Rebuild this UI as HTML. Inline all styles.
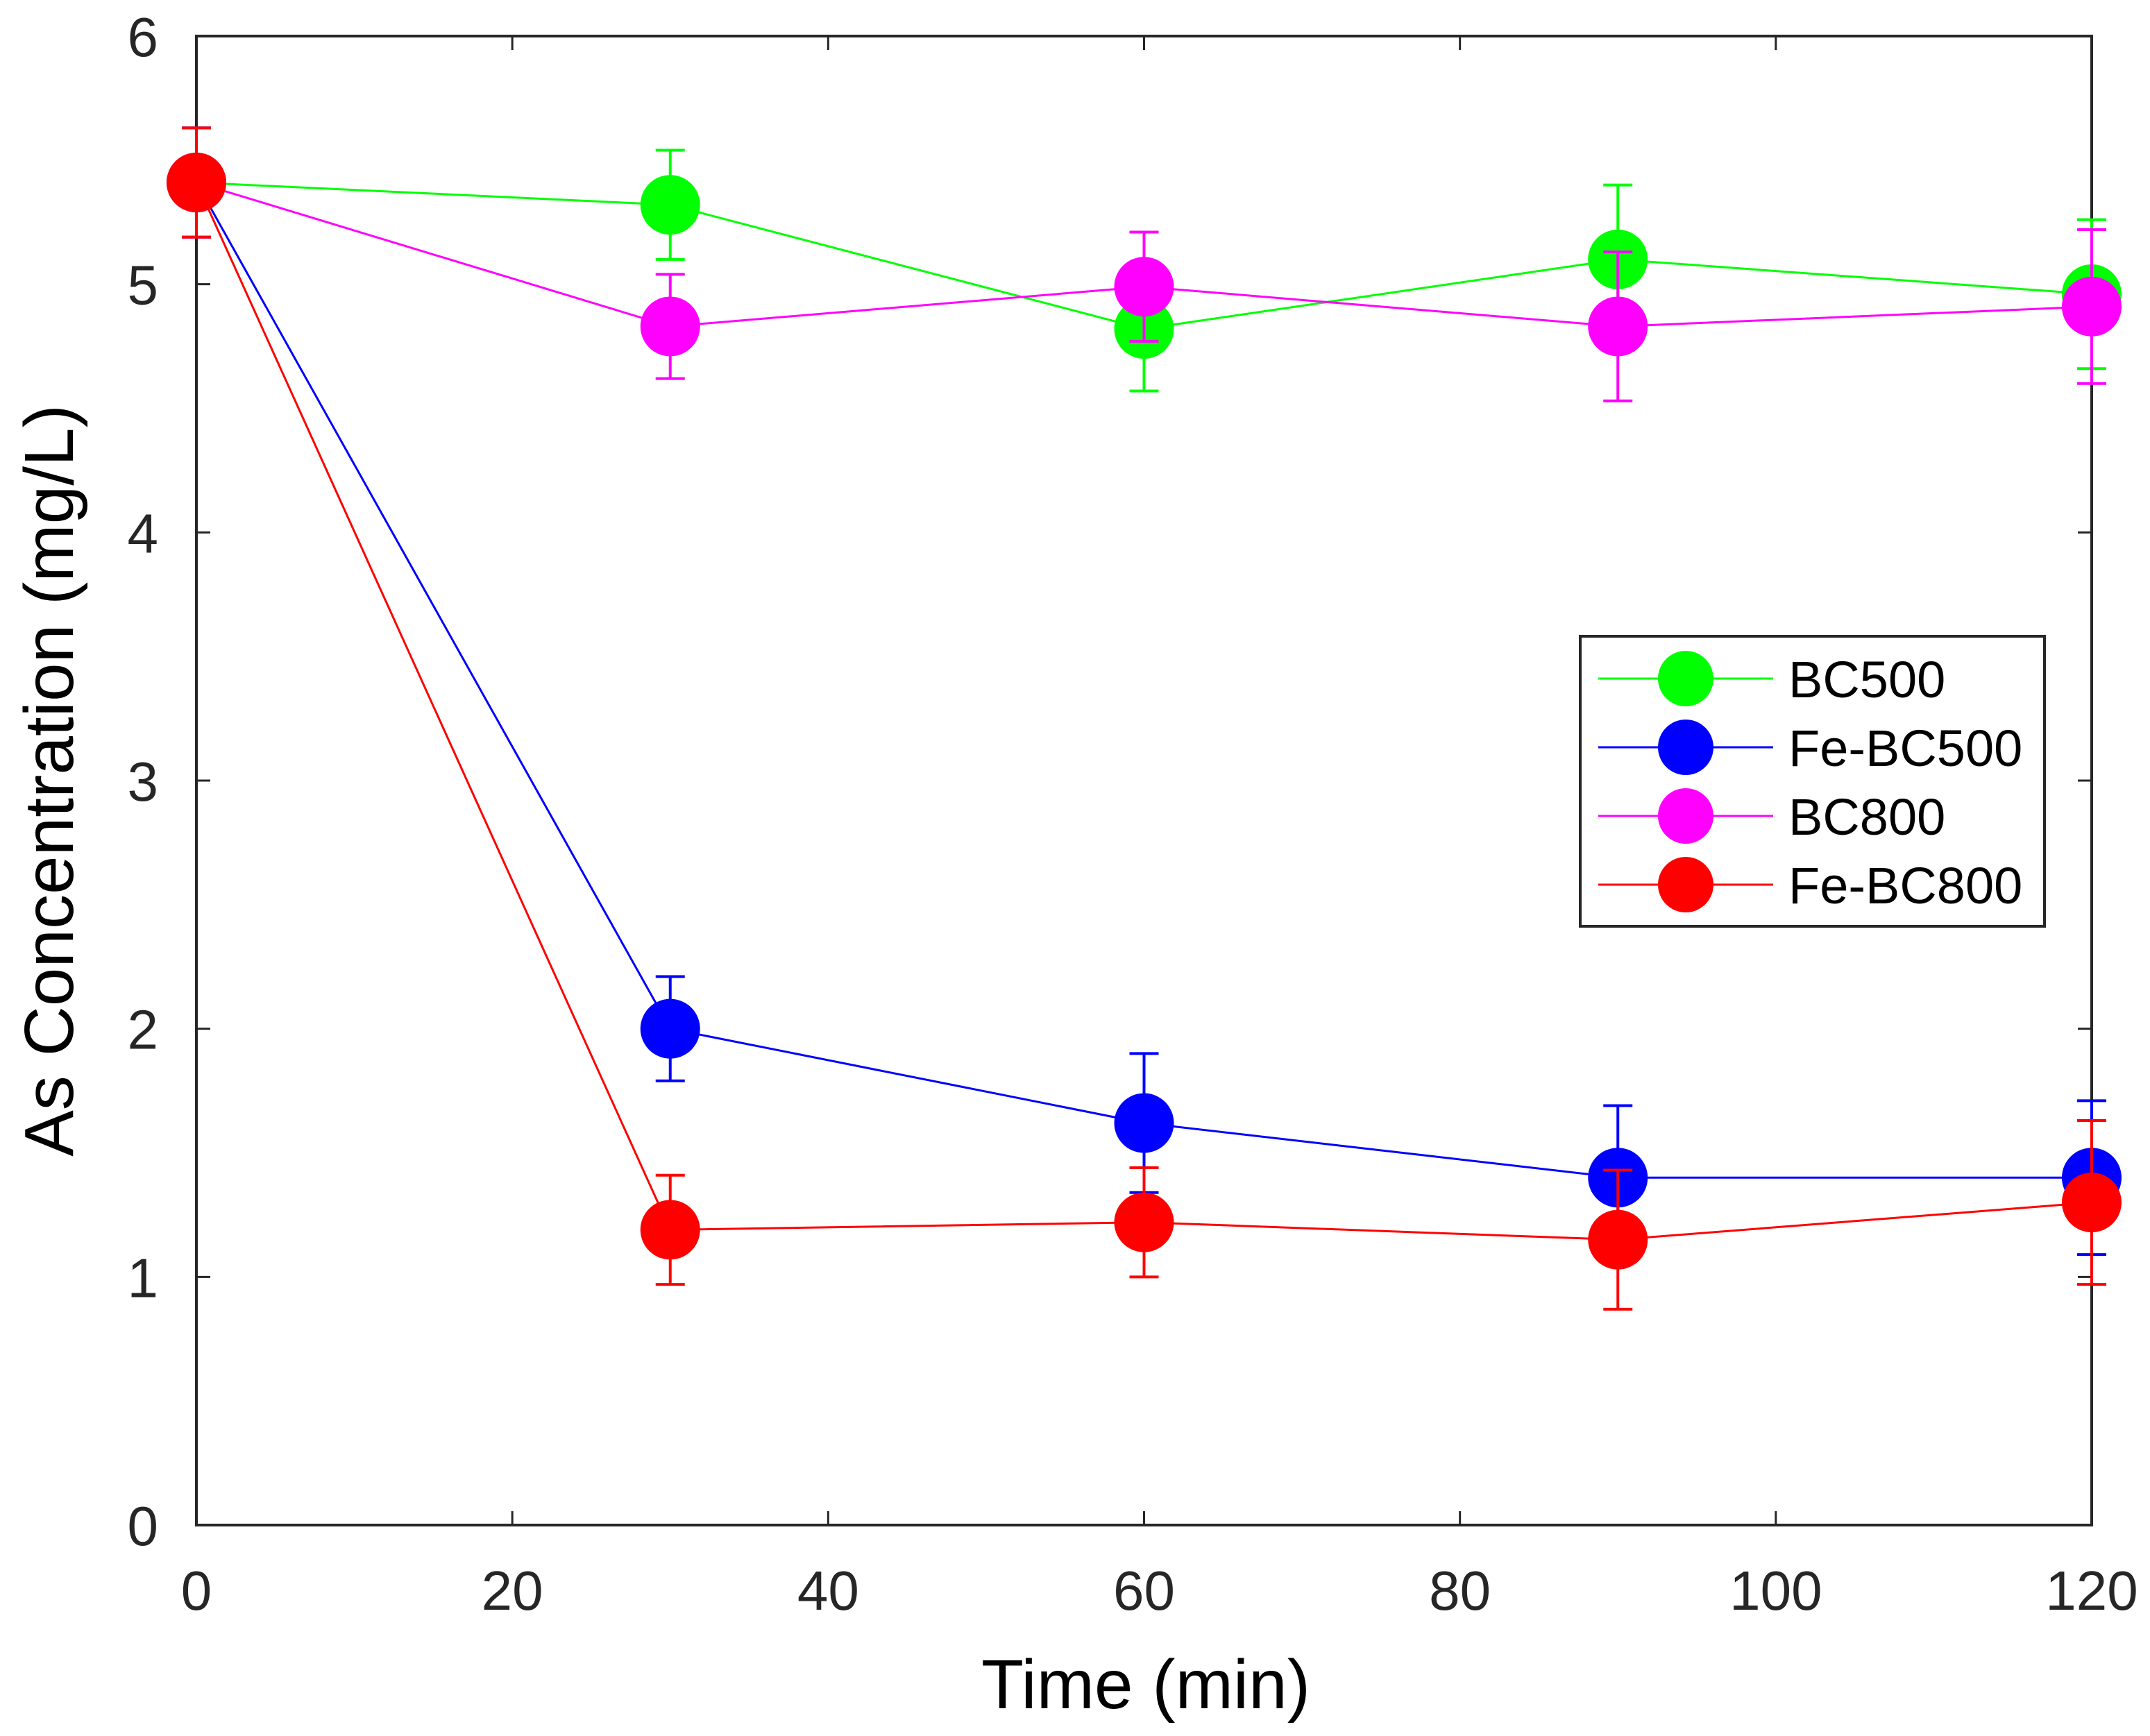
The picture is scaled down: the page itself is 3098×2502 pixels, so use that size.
<!DOCTYPE html>
<html><head><meta charset="utf-8"><style>
html,body{margin:0;padding:0;background:#fff;}
svg{display:block;font-family:"Liberation Sans",Arial,sans-serif;}
</style></head><body>
<svg id="chart" width="3098" height="2502" viewBox="0 0 3098 2502" xmlns="http://www.w3.org/2000/svg"></svg>
<script>
const times = [0, 30, 60, 90, 120];
const seriesNames = ["BC500", "Fe-BC500", "BC800", "Fe-BC800"];
const bc500 = [5.41, 5.32, 4.82, 5.10, 4.96];
const bc500Err = [0.22, 0.22, 0.25, 0.30, 0.30];
const feBc500 = [5.41, 2.00, 1.62, 1.40, 1.40];
const feBc500Err = [0.22, 0.21, 0.28, 0.29, 0.31];
const bc800 = [5.41, 4.83, 4.99, 4.83, 4.91];
const bc800Err = [0.22, 0.21, 0.22, 0.30, 0.31];
const feBc800 = [5.41, 1.19, 1.22, 1.15, 1.30];
const feBc800Err = [0.22, 0.22, 0.22, 0.28, 0.33];
const xTicks = [0, 20, 40, 60, 80, 100, 120];
const yTicks = [0, 1, 2, 3, 4, 5, 6];

const colors = ["#00ff00", "#0000ff", "#ff00ff", "#ff0000"];
const allVals = [bc500, feBc500, bc800, feBc800];
const allErrs = [bc500Err, feBc500Err, bc800Err, feBc800Err];

const L = 283, R = 3014, T = 52, B = 2198;
const xS = v => L + (v - 0) / 120 * (R - L);
const yS = v => B - (v - 0) / 6 * (B - T);
const NS = "http://www.w3.org/2000/svg";
const svg = document.getElementById('chart');
function mk(tag, attrs, parent) {
  const e = document.createElementNS(NS, tag);
  for (const k in attrs) e.setAttribute(k, attrs[k]);
  (parent || svg).appendChild(e);
  return e;
}
const axisColor = "#262626";

xTicks.forEach(t => {
  const x = xS(t);
  const g = mk('g', {});
  
  
  mk('line', {x1: x, y1: B, x2: x, y2: B - 20, stroke: axisColor, 'stroke-width': 3}, g);
  mk('line', {x1: x, y1: T, x2: x, y2: T + 20, stroke: axisColor, 'stroke-width': 3}, g);
  const tx = mk('text', {x: x, y: 2320, 'font-size': 80, 'text-anchor': 'middle', fill: axisColor}, g);
  tx.textContent = t;
});
yTicks.forEach(t => {
  const y = yS(t);
  const g = mk('g', {});
  
  
  mk('line', {x1: L, y1: y, x2: L + 20, y2: y, stroke: axisColor, 'stroke-width': 3}, g);
  mk('line', {x1: R, y1: y, x2: R - 20, y2: y, stroke: axisColor, 'stroke-width': 3}, g);
  const tx = mk('text', {x: 228, y: y + 29, 'font-size': 80, 'text-anchor': 'end', fill: axisColor}, g);
  tx.textContent = t;
});
const frame = mk('rect', {x: L, y: T, width: R - L, height: B - T, fill: 'none', stroke: axisColor, 'stroke-width': 4});



allVals.forEach((vals, si) => {
  const g = mk('g', {});
  
  
  const pts = vals.map((v, i) => xS(times[i]) + ',' + yS(v)).join(' ');
  const pl = mk('polyline', {points: pts, fill: 'none', stroke: colors[si], 'stroke-width': 3}, g);
  
  
  vals.forEach((v, i) => {
    const x = xS(times[i]), e = allErrs[si][i];
    const eb = mk('path', {d: `M${x},${yS(v + e)}V${yS(v - e)}M${x - 21},${yS(v + e)}H${x + 21}M${x - 21},${yS(v - e)}H${x + 21}`, stroke: colors[si], 'stroke-width': 4, fill: 'none'}, g);
    
    
    const c = mk('circle', {cx: x, cy: yS(v), r: 43, fill: colors[si]}, g);
    
    
  });
});

const lg = mk('g', {});


mk('rect', {x: 2277, y: 917, width: 669, height: 418, fill: '#fff', stroke: axisColor, 'stroke-width': 4}, lg);
seriesNames.forEach((n, i) => {
  const y = 978 + i * 99;
  const e = mk('g', {}, lg);
  
  
  mk('line', {x1: 2303, y1: y, x2: 2555, y2: y, stroke: colors[i], 'stroke-width': 3}, e);
  mk('circle', {cx: 2429, cy: y, r: 40, fill: colors[i]}, e);
  const t = mk('text', {x: 2577, y: y + 27, 'font-size': 74, fill: '#000'}, e);
  t.textContent = n;
});

const xt = mk('text', {x: 1651, y: 2462, 'font-size': 100, 'text-anchor': 'middle', fill: '#000'});
xt.textContent = 'Time (min)';


const yt = mk('text', {x: 0, y: 0, 'font-size': 100, 'text-anchor': 'middle', fill: '#000', transform: 'translate(105,1125) rotate(-90)'});
yt.textContent = 'As Concentration (mg/L)';


</script>
</body></html>
